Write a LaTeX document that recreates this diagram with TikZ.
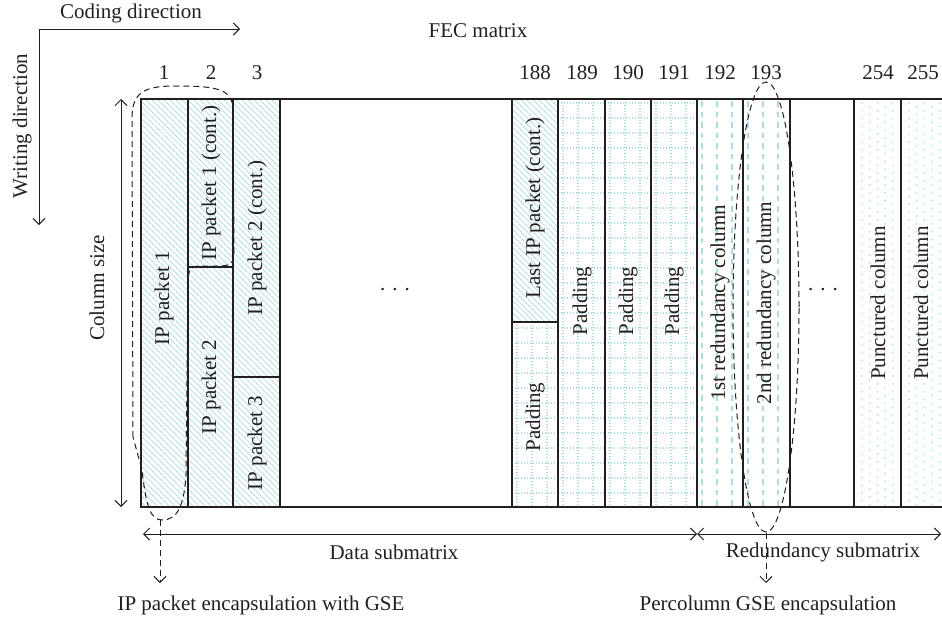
\documentclass[tikz,border=0pt]{standalone}
\usepackage{fontspec}
\setmainfont{Liberation Serif}
\usetikzlibrary{arrows.meta,patterns.meta,shapes.geometric}
\definecolor{ink}{RGB}{35,31,32}
\definecolor{hatchc}{RGB}{178,221,227}
\definecolor{gridc}{RGB}{172,219,225}
\tikzset{
  txt/.style={font=\fontsize{21}{25}\selectfont, text=ink, inner sep=0pt},
  vtxt/.style={txt, rotate=90},
  border/.style={draw=ink, line width=1.2pt},
  barb/.tip={Straight Barb[length=6pt,width=12pt,line width=1pt]},
  dimline/.style={draw=ink, line width=0.9pt},
  encl/.style={draw=ink, line width=1pt, dash pattern=on 6pt off 4pt},
  hatchfill/.style={pattern={Lines[angle=-45,distance=4pt,line width=1.1pt]}, pattern color=hatchc},
  gridl/.style={draw=gridc, line width=1.1pt, dash pattern=on 1.4pt off 1.6pt},
  redl/.style={draw=gridc, line width=1.6pt, dash pattern=on 5.5pt off 5pt},
}
\newcommand{\padgrid}[4]{%
  \begin{scope}
    \clip (#1,#2) rectangle (#3,#4);
    \foreach \dx in {5,20,35} \draw[gridl] (#1+\dx,#2) -- (#1+\dx,#4);
    \foreach \yy in {103,118,...,508} \draw[gridl] (#1,\yy) -- (#3,\yy);
  \end{scope}}
\newcommand{\redcol}[1]{%
  \foreach \dx in {5,20,35} \draw[redl] (#1+\dx,101) -- (#1+\dx,507);}
\newcommand{\puncol}[1]{%
  \foreach \k in {0,...,51} {%
    \foreach \m in {0,1,2} \fill[gridc] (#1+8+15.4*\m,103+7.8*\k) circle (0.9pt);
    \foreach \m in {0,1} \fill[gridc] (#1+15.7+15.4*\m,106.9+7.8*\k) circle (0.9pt);
  }}
\begin{document}
\begin{tikzpicture}[x=1pt,y=-1pt]
\useasboundingbox (0,0) rectangle (942,621);

% ---- fills
\fill[hatchfill] (141,99) rectangle (280,507);
\fill[hatchfill] (512,99) rectangle (558,322);
\padgrid{512}{322}{558}{507}
\padgrid{558}{99}{605}{507}
\padgrid{605}{99}{651}{507}
\padgrid{651}{99}{697}{507}
\redcol{697}
\redcol{743}
\puncol{854}
\puncol{901}

% ---- matrix borders
\coordinate (tl) at (141,99);
\coordinate (tr) at (942,99);
\coordinate (bl) at (141,507);
\coordinate (br) at (942,507);
\draw[border] (tr) -- (tl) -- (bl) -- (br);
\foreach \xx in {188,233,280,512,558,605,651,697,743,790,854,901}
  \draw[border] (\xx,99) -- (\xx,507);
\draw[border] (188,267) -- (233,267);
\draw[border] (233,377) -- (280,377);
\draw[border] (512,322) -- (558,322);

% ---- column numbers
\node[txt] (c1)   at (164,73) {1};
\node[txt] (c2)   at (211,73) {2};
\node[txt] (c3)   at (257,73) {3};
\node[txt] (c188) at (535,73) {188};
\node[txt] (c189) at (582,73) {189};
\node[txt] (c190) at (628,73) {190};
\node[txt] (c191) at (674,73) {191};
\node[txt] (c192) at (720,73) {192};
\node[txt] (c193) at (766,73) {193};
\node[txt] (c254) at (878,73) {254};
\node[txt] (c255) at (923,73) {255};

\node[txt] (fec) at (478,31) {FEC matrix};
\node[txt] (coding) at (131,13) {Coding direction};
\node[vtxt] (writing) at (22,126) {Writing direction};
\node[vtxt] (colsize) at (97,288) {Column size};

% ---- cell texts
\node[vtxt] (p1)  at (164,298) {IP packet 1};
\node[vtxt] (p1c) at (211,183) {IP packet 1 (cont.)};
\node[vtxt] (p2)  at (211,387) {IP packet 2};
\node[vtxt] (p2c) at (257,238) {IP packet 2 (cont.)};
\node[vtxt] (p3)  at (257,443) {IP packet 3};
\node[vtxt] (lp)  at (535,208) {Last IP packet (cont.)};
\node[vtxt] (pd0) at (535,417) {Padding};
\node[vtxt] (pd1) at (582,301) {Padding};
\node[vtxt] (pd2) at (628,301) {Padding};
\node[vtxt] (pd3) at (674,301) {Padding};
\node[vtxt] (r1)  at (720,303) {1st redundancy column};
\node[vtxt] (r2)  at (766,303) {2nd redundancy column};
\node[vtxt] (u1)  at (878,303) {Punctured column};
\node[vtxt] (u2)  at (921,303) {Punctured column};
\node[txt] (dots1) at (395,290) {. . .};
\node[txt] (dots2) at (823,290) {. . .};

% ---- direction arrows
\coordinate (wd) at (39,225);
\coordinate (corner) at (39,29);
\coordinate (cd) at (240,29);
\draw[dimline, barb-barb] (wd) -- (corner) -- (cd);
\coordinate (cs1) at (121,99);
\coordinate (cs2) at (121,507);
\draw[dimline, barb-barb] (cs1) -- (cs2);

% ---- submatrix dimension lines
\coordinate (dl) at (143,534);
\coordinate (dm) at (697,534);
\coordinate (dr) at (941,534);
\draw[dimline, barb-barb] (dl) -- (dm);
\draw[dimline, barb-barb] (dm) -- (dr);
\node[txt] (datasub) at (394,552) {Data submatrix};
\node[txt] (redsub) at (823,552) {Redundancy submatrix};

% ---- enclosures
\coordinate (e1b) at (162,520);
\draw[encl] (133,437) -- (132,118) .. controls (132,92) and (145,86) .. (175,86)
  .. controls (215,86) and (233,88) .. (233,110) -- (234,252)
  .. controls (234,264) and (230,266) .. (218,266) -- (200,266)
  .. controls (191,266) and (188,270) .. (188,282) -- (186,475)
  .. controls (184,505) and (178,520) .. (e1b)
  .. controls (150,520) and (146,505) .. (142,470) -- cycle;
\node[encl, ellipse, minimum width=66pt, minimum height=450pt, inner sep=0pt] (e2) at (766,307) {};
\coordinate (e1t) at (160,583);
\coordinate (e2t) at (766,583);
\draw[encl, -barb] (160,520) -- (e1t);
\draw[encl, -barb] (e2.south) -- (e2t);
\node[txt] (enc1) at (261,605) {IP packet encapsulation with GSE};
\node[txt] (enc2) at (768,605) {Percolumn GSE encapsulation};
\end{tikzpicture}
\end{document}
